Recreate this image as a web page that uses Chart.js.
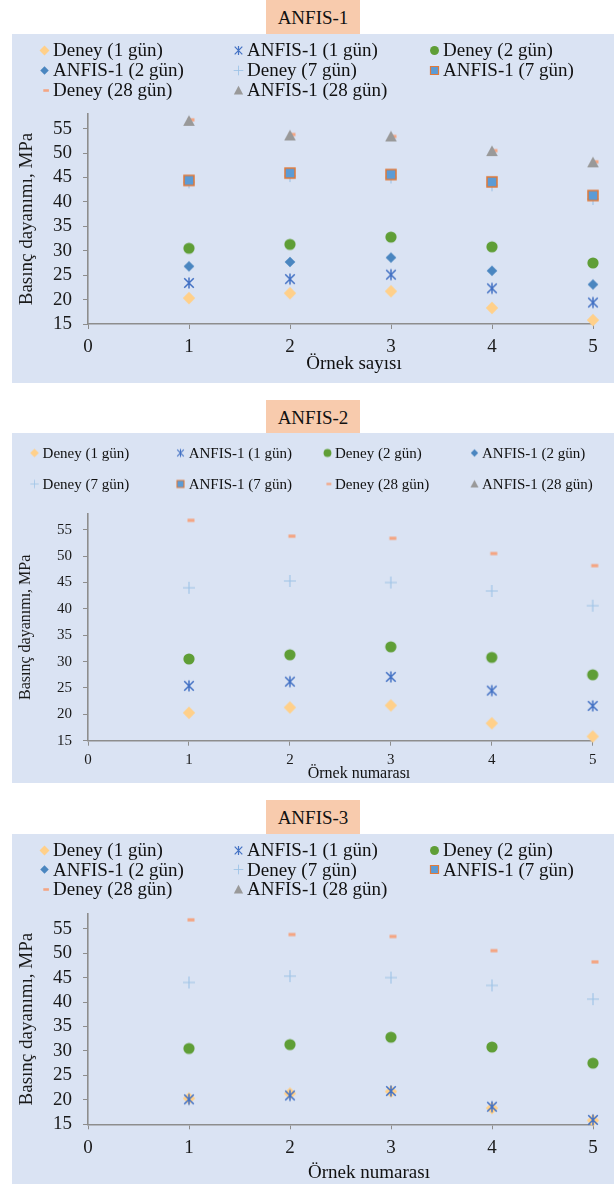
<!DOCTYPE html>
<html>
<head>
<meta charset="utf-8">
<script src="https://cdn.jsdelivr.net/npm/chart.js@4.4.1/dist/chart.umd.min.js"></script>
<style>
  body { margin: 0; background: #fff; width: 614px; height: 1184px; position: relative; overflow: hidden;
         font-family: 'Liberation Serif', 'Times New Roman', serif; color: #111; }
  .box { position: absolute; left: 266px; width: 94px; height: 34px; line-height: 35px;
         background: #f8cbad; text-align: center; font-size: 19px; }
  .panel { position: absolute; left: 12px; width: 602px; background: #dae3f3; }
  .panel canvas { position: absolute; left: 0; top: 0; }
  .lg { position: absolute; display: flex; align-items: center; white-space: nowrap; transform: translateY(-50%); }
  .lg canvas { position: static; }
  .xt { position: absolute; transform: translate(-50%, -50%); white-space: nowrap; }
</style>
</head>
<body>
<script>
// ---- data ----
const sampleNo = [1, 2, 3, 4, 5];
const xTicks = [0, 1, 2, 3, 4, 5];
const yTicks = [15, 20, 25, 30, 35, 40, 45, 50, 55];
const yMin = 15, yMax = 58;
const seriesNames = ['Deney (1 gün)', 'ANFIS-1 (1 gün)', 'Deney (2 gün)', 'ANFIS-1 (2 gün)',
                     'Deney (7 gün)', 'ANFIS-1 (7 gün)', 'Deney (28 gün)', 'ANFIS-1 (28 gün)'];

const deney1  = [20.3, 21.3, 21.7, 18.3, 15.8];
const deney2  = [30.5, 31.3, 32.8, 30.8, 27.5];
const deney7  = [44.0, 45.3, 45.0, 43.4, 40.6];
const deney28 = [56.8, 53.8, 53.4, 50.5, 48.2];

const anfis1Day1  = [23.4, 24.2, 25.1, 22.3, 19.4];
const anfis1Day2  = [26.8, 27.7, 28.6, 25.9, 23.1];
const anfis1Day7  = [44.4, 45.9, 45.6, 44.1, 41.3];
const anfis1Day28 = [56.6, 53.6, 53.4, 50.4, 48.1];

const anfis2Day1 = [25.4, 26.2, 27.1, 24.5, 21.6];
const anfis3Day1 = [20.1, 20.9, 21.8, 18.6, 15.9];

// marker look for each series (same order as seriesNames)
const markers = [
  { shape: 'diamond',  r: 6.2, fill: '#ffd08a' },
  { shape: 'star',     r: 5.6, stroke: '#4472c4', lw: 1.5 },
  { shape: 'circle',   r: 5.6, fill: '#5f9e36' },
  { shape: 'diamond',  r: 5.3, fill: '#4a86c0' },
  { shape: 'plus',     r: 6,   stroke: '#9dc3e6', lw: 1.1 },
  { shape: 'square',   r: 5,   fill: '#5b9bd5', stroke: '#e07a3a', lw: 1.5 },
  { shape: 'dash',     r: 3.5, fill: '#f4a582' },
  { shape: 'triangle', r: 5.8, fill: '#999999' }
];

const fontFamily = "'Liberation Serif', 'Times New Roman', serif";
const axisColor = '#8d8d8d';

function markerCanvas(m, k) {
  const s = Math.ceil(18 * k);
  const c = document.createElement('canvas');
  c.width = c.height = s;
  const g = c.getContext('2d');
  g.translate(s / 2, s / 2);
  g.scale(k, k);
  g.fillStyle = m.fill || m.stroke;
  g.strokeStyle = m.stroke || m.fill;
  g.lineWidth = m.lw || 1;
  const r = m.r;
  g.beginPath();
  if (m.shape === 'diamond') {
    g.moveTo(0, -r); g.lineTo(r, 0); g.lineTo(0, r); g.lineTo(-r, 0); g.closePath(); g.fill();
  } else if (m.shape === 'circle') {
    g.arc(0, 0, r, 0, Math.PI * 2); g.fill();
  } else if (m.shape === 'square') {
    g.rect(-r, -r, 2 * r, 2 * r); g.fill(); g.stroke();
  } else if (m.shape === 'triangle') {
    g.moveTo(0, -r); g.lineTo(r, r * 0.85); g.lineTo(-r, r * 0.85); g.closePath(); g.fill();
  } else if (m.shape === 'plus') {
    g.moveTo(-r, 0); g.lineTo(r, 0); g.moveTo(0, -r); g.lineTo(0, r); g.stroke();
  } else if (m.shape === 'star') {
    const d = r * 0.85;
    g.moveTo(-d, -d); g.lineTo(d, d); g.moveTo(d, -d); g.lineTo(-d, d);
    g.moveTo(0, -r); g.lineTo(0, r); g.stroke();
  } else if (m.shape === 'dash') {
    g.fillRect(-r + 2, -1.6, 2 * r, 3.2);
  }
  return c;
}

const panels = [
  { title: 'ANFIS-1', xTitle: 'Örnek sayısı', boxTop: 0, top: 34, height: 349,
    series: [deney1, anfis1Day1, deney2, anfis1Day2, deney7, anfis1Day7, deney28, anfis1Day28],
    legend: { cols: [32, 226, 422], rows: [16, 36, 56], font: 19, gap: 9, k: 0.8 },
    plotTop: 80, axisH: 59, right: 21, tickFont: 19, tickPad: 7, titleFont: 19,
    xt: { x: 354, y: 363, font: 19 } },
  { title: 'ANFIS-2', xTitle: 'Örnek numarası', boxTop: 400, top: 433, height: 350,
    series: [deney1, anfis2Day1, deney2, [], deney7, [], deney28, []],
    legend: { cols: [22.6, 168.7, 315, 462], rows: [20, 51], font: 15, gap: 8, k: 0.7 },
    plotTop: 81, axisH: 42.3, right: 21.3, tickFont: 15, tickPad: 5.3, titleFont: 16,
    xt: { x: 359, y: 773, font: 16 } },
  { title: 'ANFIS-3', xTitle: 'Örnek numarası', boxTop: 800, top: 834, height: 350,
    series: [deney1, anfis3Day1, deney2, [], deney7, [], deney28, []],
    legend: { cols: [32, 226, 422], rows: [16, 35.5, 55], font: 19, gap: 9, k: 0.8 },
    plotTop: 80, axisH: 59.7, right: 21, tickFont: 19, tickPad: 7.3, titleFont: 19,
    xt: { x: 369, y: 1172, font: 19 } }
];

const plotMarkers = markers.map(m => markerCanvas(m, 1));

panels.forEach((p, n) => {
  const box = document.createElement('div');
  box.className = 'box';
  box.style.top = p.boxTop + 'px';
  box.textContent = p.title;
  document.body.appendChild(box);

  const panel = document.createElement('div');
  panel.className = 'panel';
  panel.style.top = p.top + 'px';
  panel.style.height = p.height + 'px';
  document.body.appendChild(panel);

  const canvas = document.createElement('canvas');
  canvas.width = 602;
  canvas.height = p.height;
  panel.appendChild(canvas);

  // legend, laid out as a grid like the original
  const nc = p.legend.cols.length;
  seriesNames.forEach((name, i) => {
    const item = document.createElement('div');
    item.className = 'lg';
    const mk = markerCanvas(markers[i], p.legend.k);
    const col = i % nc, row = Math.floor(i / nc);
    item.style.left = (p.legend.cols[col] - mk.width / 2) + 'px';
    item.style.top = p.legend.rows[row] + 'px';
    item.style.fontSize = p.legend.font + 'px';
    const txt = document.createElement('span');
    txt.textContent = name;
    txt.style.marginLeft = (p.legend.gap - mk.width / 2) + 'px';
    item.appendChild(mk);
    item.appendChild(txt);
    panel.appendChild(item);
  });

  const xt = document.createElement('div');
  xt.className = 'xt';
  xt.style.left = p.xt.x + 'px';
  xt.style.top = p.xt.y + 'px';
  xt.style.fontSize = p.xt.font + 'px';
  xt.textContent = p.xTitle;
  document.body.appendChild(xt);

  new Chart(canvas, {
    type: 'scatter',
    data: {
      datasets: p.series.map((vals, i) => ({
        label: seriesNames[i],
        data: vals.map((v, j) => ({ x: sampleNo[j], y: v })),
        pointStyle: plotMarkers[i],
        pointRadius: 6,
        order: -i,
        clip: false
      }))
    },
    options: {
      responsive: false,
      animation: false,
      layout: { padding: { top: p.plotTop, right: p.right, bottom: 0, left: 0 } },
      plugins: { legend: { display: false }, tooltip: { enabled: false } },
      scales: {
        x: {
          type: 'linear', min: 0, max: 5,
          afterBuildTicks: s => { s.ticks = xTicks.map(v => ({ value: v })); },
          afterFit: s => { s.height = p.axisH; },
          grid: { drawOnChartArea: false, drawTicks: true, tickLength: 5, color: axisColor },
          border: { color: axisColor, width: 1.6 },
          ticks: { padding: p.tickPad, color: '#1a1a1a', maxRotation: 0, font: { family: fontFamily, size: p.tickFont } }
        },
        y: {
          min: yMin, max: yMax,
          afterBuildTicks: s => { s.ticks = yTicks.map(v => ({ value: v })); },
          afterFit: s => { s.width = 76; },
          grid: { drawOnChartArea: false, drawTicks: true, tickLength: 5, color: axisColor },
          border: { color: axisColor, width: 1.6 },
          ticks: { padding: 11, color: '#1a1a1a', font: { family: fontFamily, size: p.tickFont } },
          title: { display: true, text: 'Basınç dayanımı, MPa', color: '#1a1a1a',
                   padding: { top: 4, bottom: 4 }, font: { family: fontFamily, size: p.titleFont } }
        }
      }
    }
  });
});
</script>
</body>
</html>
